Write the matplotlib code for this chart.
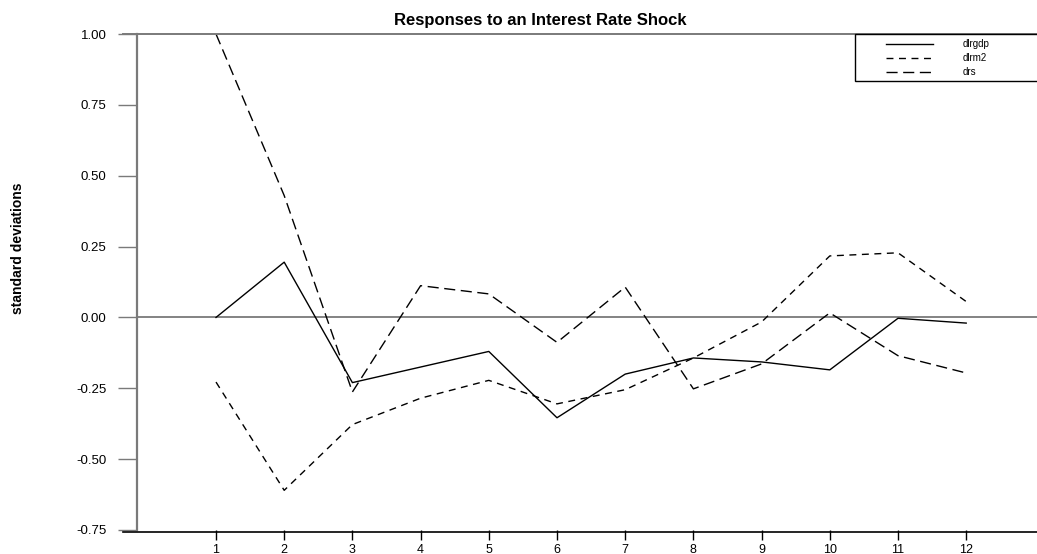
import matplotlib
matplotlib.use("Agg")
import matplotlib.pyplot as plt
from matplotlib.lines import Line2D
from matplotlib.patches import Rectangle

plt.rcParams['font.family'] = ['Liberation Sans', 'DejaVu Sans']

# impulse responses, steps 1..12
steps = list(range(1, 13))
dlrgdp = [0.0, 0.195, -0.23, -0.175, -0.12, -0.354, -0.20, -0.143, -0.157, -0.185, -0.003, -0.02]
dlrm2 = [-0.228, -0.61, -0.378, -0.285, -0.222, -0.305, -0.255, -0.143, -0.016, 0.217, 0.228, 0.056]
drs = [1.00, 0.43, -0.263, 0.112, 0.083, -0.088, 0.107, -0.252, -0.164, 0.016, -0.135, -0.196]

series_names = ["dlrgdp", "dlrm2", "drs"]
yticks = [-0.75, -0.50, -0.25, 0.00, 0.25, 0.50, 0.75, 1.00]
ytick_labels = ["%.2f" % v for v in yticks]

W, H = 1037, 554
fig = plt.figure(figsize=(W / 100, H / 100), dpi=100)
ax = fig.add_axes([137 / W, 1 - 530 / H, 1 - 137 / W, (530 - 34) / H])

grey = "#7a7a7a"
styles = [dict(), dict(dashes=(5, 4)), dict(dashes=(8, 4))]
for name, vals, st in zip(series_names, [dlrgdp, dlrm2, drs], styles):
    ax.plot(steps, vals, color="black", lw=1.0, label=name, **st)
ax.axhline(0, color=grey, lw=1.3, zorder=1)

ax.set_xlim(1 - (216 - 137) / 68.2, 1 + (1037 - 216) / 68.2)
ax.set_ylim(-0.75, 1.0)

for s in ["top", "right", "bottom"]:
    ax.spines[s].set_visible(False)
ax.spines["left"].set_color(grey)
ax.spines["left"].set_linewidth(1.6)

ax.set_yticks(yticks)
ax.set_yticklabels(ytick_labels)
ax.tick_params(axis="y", length=14, width=1.0, color=grey, pad=8, labelsize=9.5)
ax.set_xticks(steps)
ax.tick_params(axis="x", length=7, width=1.0, color="black", pad=3, labelsize=9)

# frame lines that reach past the left spine, as in the original
fig.add_artist(Line2D([123 / W, 1], [1 - 532 / H] * 2, color="black", lw=1.2))
fig.add_artist(Line2D([123 / W, 1], [1 - 34 / H] * 2, color=grey, lw=1.4))

fig.text(540 / W, 1 - 20 / H, "Responses to an Interest Rate Shock",
         ha="center", va="center", fontsize=12, fontweight="bold")
fig.text(18 / W, 1 - 248 / H, "standard deviations", rotation=90,
         ha="center", va="center", fontsize=10, fontweight="bold")

# key box in the top right corner
fig.add_artist(Rectangle((855 / W, 1 - 81 / H), 190 / W, 47 / H, transform=fig.transFigure,
                         facecolor="white", edgecolor="black", lw=1.0, zorder=5))
for i, (name, st) in enumerate(zip(series_names, styles)):
    yy = 1 - (44 + 14 * i) / H
    fig.add_artist(Line2D([886 / W, 933 / W], [yy, yy], color="black", lw=1.0, zorder=6, **st))
    fig.text(963 / W, yy, name, ha="left", va="center", fontsize=7, zorder=6)

fig.savefig("out.png", dpi=100)
